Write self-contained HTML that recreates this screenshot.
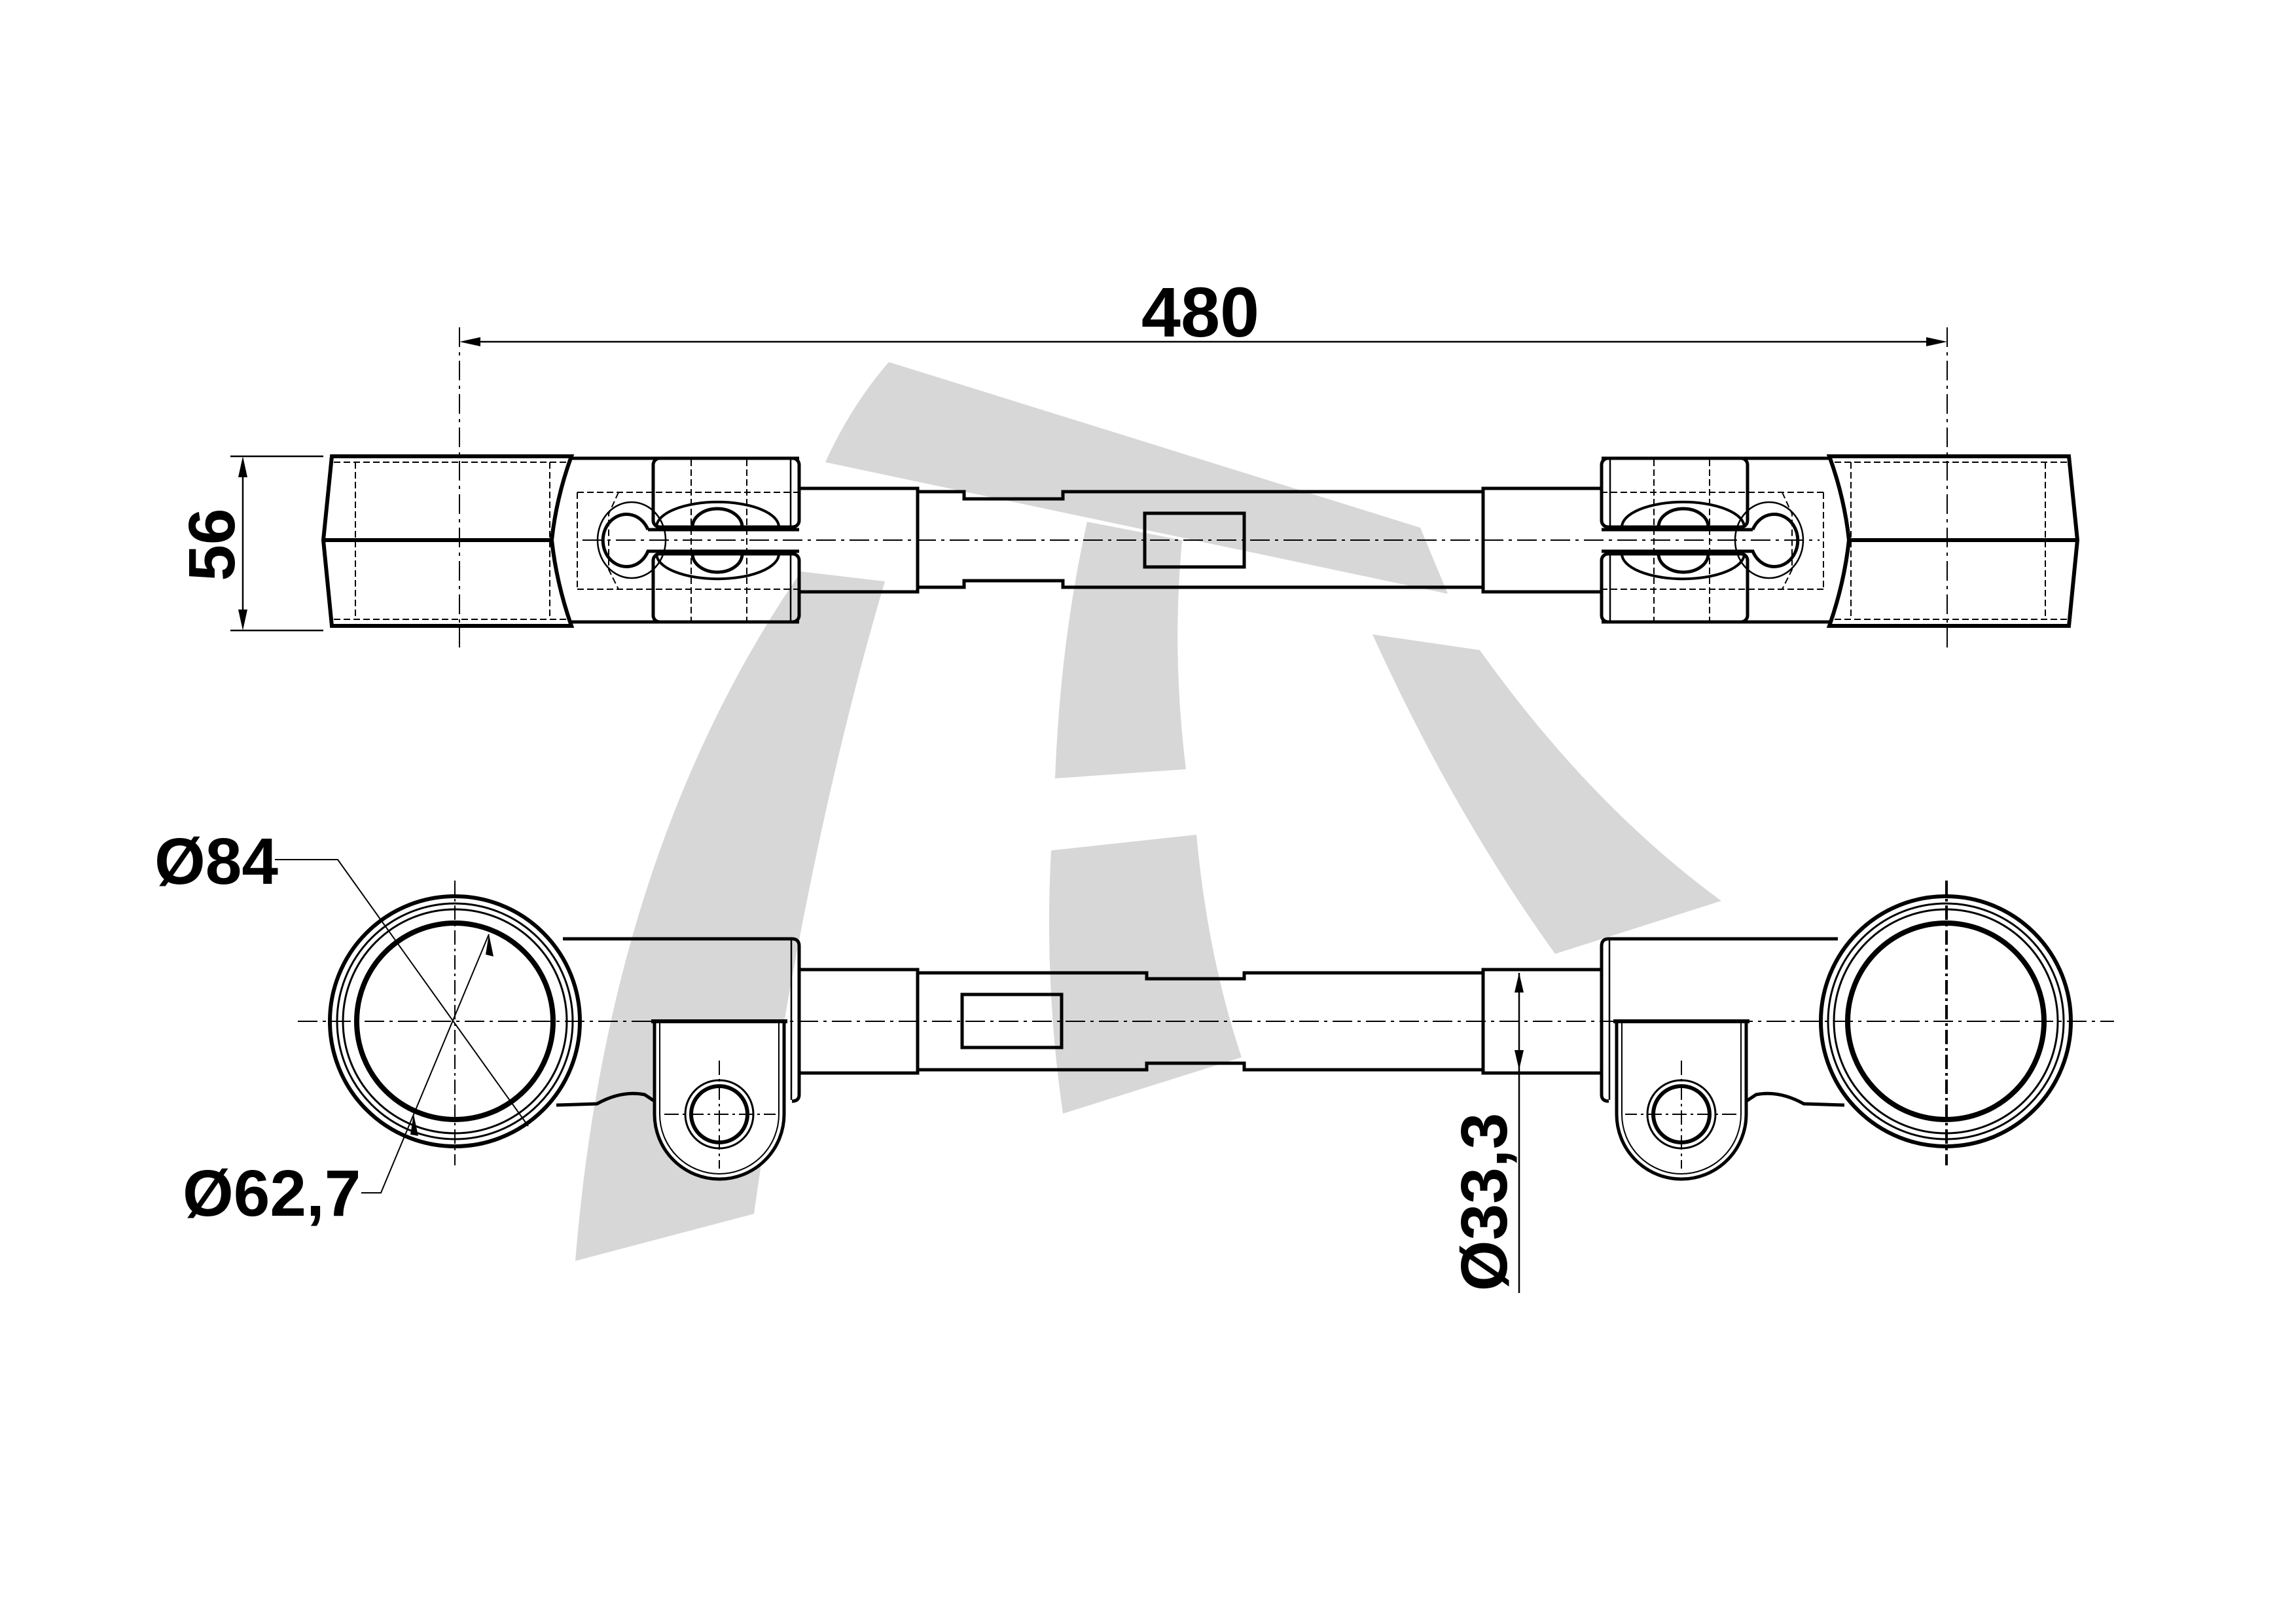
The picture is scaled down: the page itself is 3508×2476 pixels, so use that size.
<!DOCTYPE html>
<html><head><meta charset="utf-8"><style>html,body{margin:0;padding:0;background:#fff}svg{display:block}</style></head>
<body>
<svg width="3508" height="2476" viewBox="0 0 3508 2476" xmlns="http://www.w3.org/2000/svg">
<defs>
<marker id="ar" markerWidth="30" markerHeight="12" refX="29" refY="6" orient="auto" markerUnits="userSpaceOnUse"><path d="M0,0 L30,6 L0,12 Z" fill="#000"/></marker>
<g id="topEnd" fill="none" stroke="#000">
  <!-- cap -->
  <path d="M507,697 L873,697 Q850,760 843,825 Q850,890 873,956 L507,956 L494,825 Z" stroke-width="6" fill="#fff"/>
  <line x1="494" y1="825" x2="843" y2="825" stroke-width="6"/>
  <line x1="510" y1="706" x2="868" y2="706" stroke-width="2" stroke-dasharray="10 5"/>
  <line x1="510" y1="946" x2="868" y2="946" stroke-width="2" stroke-dasharray="10 5"/>
  <line x1="543" y1="706" x2="543" y2="946" stroke-width="2" stroke-dasharray="10 5"/>
  <line x1="840" y1="706" x2="840" y2="946" stroke-width="2" stroke-dasharray="10 5"/>
  <!-- body -->
  <path d="M873,700 L1221,700 M873,950 L1221,950" stroke-width="5"/>
  <!-- hidden rect -->
  <path d="M882,752 L1221,752 M882,900 L1221,900 M882,752 L882,900" stroke-width="2" stroke-dasharray="10 5"/>
  <path d="M945,752 L930,785 L930,870 L945,900" stroke-width="2" stroke-dasharray="10 5"/>
  <!-- clamp block -->
  <rect x="998" y="700" width="223" height="105" rx="10" stroke-width="5"/>
  <rect x="998" y="846" width="223" height="104" rx="10" stroke-width="5"/>
  <line x1="1208" y1="702" x2="1208" y2="803" stroke-width="2.5"/>
  <line x1="1208" y1="848" x2="1208" y2="948" stroke-width="2.5"/>
  <line x1="1056" y1="702" x2="1056" y2="948" stroke-width="2" stroke-dasharray="10 5"/>
  <line x1="1141" y1="702" x2="1141" y2="948" stroke-width="2" stroke-dasharray="10 5"/>
  <path d="M1003,805 A93,38 0 1 1 1190,805" stroke-width="4"/>
  <path d="M1003,846 A93,38 0 1 0 1190,846" stroke-width="4"/>
  <path d="M1058,805 A38,28 0 1 1 1134,805 Z" stroke-width="5"/>
  <path d="M1058,846 A38,28 0 1 0 1134,846 Z" stroke-width="5"/>
  <!-- keyhole -->
  <path d="M990,809 A36,40 0 1 0 990,842 L1221,842 M990,809 L1221,809" stroke-width="5"/>
  <ellipse cx="965" cy="825" rx="52" ry="58" stroke-width="2.5"/>
  <!-- rod thick -->
  <path d="M1221,746 L1402,746 L1402,904 L1221,904" stroke-width="5"/>
</g>
<g id="botEnd" fill="none" stroke="#000">
  <path d="M860,1434 L1210,1434 Q1221,1434 1221,1445 L1221,1672 Q1221,1682 1210,1682" stroke-width="5"/>
  <line x1="1209" y1="1436" x2="1209" y2="1680" stroke-width="2.5"/>
  <path d="M850,1688 L912,1686 Q950,1665 985,1672 L1000,1682" stroke-width="5"/>
  <circle cx="695" cy="1560" r="191" stroke-width="6" fill="#fff"/>
  <circle cx="695" cy="1560" r="180" stroke-width="3"/>
  <circle cx="695" cy="1560" r="171" stroke-width="3"/>
  <circle cx="695" cy="1560" r="150" stroke-width="8"/>
  <path d="M1000,1560 L1000,1702 A99,99 0 0 0 1198,1702 L1198,1560" stroke-width="5" fill="#fff"/>
  <path d="M1008,1562 L1008,1702 A91,91 0 0 0 1190,1702 L1190,1562" stroke-width="2"/>
  <line x1="995" y1="1560" x2="1203" y2="1560" stroke-width="6"/>
  <circle cx="1099" cy="1702" r="52" stroke-width="3"/>
  <circle cx="1099" cy="1702" r="43" stroke-width="6"/>
  <path d="M1099,1620 L1099,1785 M1015,1702 L1185,1702" stroke-width="2" stroke-dasharray="22 6 4 6"/>
  <path d="M695,1345 L695,1780" stroke-width="2" stroke-dasharray="22 6 4 6"/>
  <path d="M1221,1481 L1402,1481 L1402,1639 L1221,1639" stroke-width="5"/>
</g>
</defs>

<!-- watermark -->
<g fill="#d7d7d7">
  <path d="M1358,553 L2170,806 L2212,907 L1261,706 Q1300,620 1358,553 Z"/>
  <path d="M1224,873 L1352,888 Q1230,1300 1152,1854 L879,1926 Q930,1300 1224,873 Z"/>
  <path d="M1661,797 L1806,825 Q1790,1000 1812,1175 L1612,1189 Q1620,980 1661,797 Z"/>
  <path d="M1606,1299 L1828,1275 Q1845,1460 1897,1615 L1624,1701 Q1595,1500 1606,1299 Z"/>
  <path d="M2097,969 L2261,993 Q2430,1230 2630,1376 L2376,1457 Q2220,1240 2097,969 Z"/>
</g>

<!-- TOP VIEW -->
<use href="#topEnd"/>
<use href="#topEnd" transform="translate(3668,0) scale(-1,1)"/>
<g fill="none" stroke="#000" stroke-width="5">
  <path d="M1402,751 L1473,751 L1473,762 L1624,762 L1624,751 L2266,751"/>
  <path d="M1402,897 L1473,897 L1473,887 L1624,887 L1624,897 L2266,897"/>
  <rect x="1749" y="784" width="152" height="82"/>
</g>
<g fill="none" stroke="#000" stroke-width="2" stroke-dasharray="30 8 5 8">
  <line x1="890" y1="825" x2="2780" y2="825"/>
  <line x1="702" y1="500" x2="702" y2="990"/>
  <line x1="2975" y1="500" x2="2975" y2="990"/>
</g>
<!-- 480 dim -->
<line x1="732" y1="522" x2="2945" y2="522" stroke="#000" stroke-width="2.5"/>
<path d="M702,522 L734,515 L734,529 Z M2975,522 L2943,515 L2943,529 Z" fill="#000"/>
<text x="1834" y="514" font-family="Liberation Sans, sans-serif" font-weight="bold" font-size="108" text-anchor="middle">480</text>
<!-- 56 dim -->
<g stroke="#000" stroke-width="2.5">
  <line x1="352" y1="697" x2="494" y2="697"/>
  <line x1="352" y1="963" x2="494" y2="963"/>
  <line x1="371" y1="727" x2="371" y2="933"/>
</g>
<path d="M371,697 L364,729 L378,729 Z M371,963 L364,931 L378,931 Z" fill="#000"/>
<text transform="translate(358,832) rotate(-90)" font-family="Liberation Sans, sans-serif" font-weight="bold" font-size="100" text-anchor="middle">56</text>

<!-- BOTTOM VIEW -->
<use href="#botEnd"/>
<use href="#botEnd" transform="translate(3668,0) scale(-1,1)"/>
<g fill="none" stroke="#000" stroke-width="5">
  <path d="M1402,1486 L1752,1486 L1752,1495 L1901,1495 L1901,1486 L2266,1486"/>
  <path d="M1402,1634 L1752,1634 L1752,1624 L1901,1624 L1901,1634 L2266,1634"/>
  <rect x="1470" y="1519" width="152" height="81"/>
</g>
<line x1="455" y1="1560" x2="3230" y2="1560" stroke="#000" stroke-width="2" stroke-dasharray="30 8 5 8"/>
<line x1="2975" y1="1345" x2="2975" y2="1780" stroke="#000" stroke-width="2" stroke-dasharray="22 6 4 6"/>

<!-- Ø84 -->
<polyline points="420,1313 516,1313 807,1720" fill="none" stroke="#000" stroke-width="2"/>
<text x="236" y="1350" font-family="Liberation Sans, sans-serif" font-weight="bold" font-size="100">Ø84</text>
<!-- Ø62,7 -->
<polyline points="552,1822 582,1822 747,1427" fill="none" stroke="#000" stroke-width="2"/>
<path d="M747,1427 L742,1458 L754,1461 Z M632,1702 L627,1733 L639,1735 Z" fill="#000"/>
<text x="279" y="1857" font-family="Liberation Sans, sans-serif" font-weight="bold" font-size="100">Ø62,7</text>
<!-- Ø33,3 -->
<line x1="2321" y1="1486" x2="2321" y2="1975" stroke="#000" stroke-width="2.5"/>
<path d="M2321,1486 L2314,1516 L2328,1516 Z M2321,1634 L2314,1604 L2328,1604 Z" fill="#000"/>
<text transform="translate(2302,1836) rotate(-90)" font-family="Liberation Sans, sans-serif" font-weight="bold" font-size="100" text-anchor="middle">Ø33,3</text>
</svg>
</body></html>
